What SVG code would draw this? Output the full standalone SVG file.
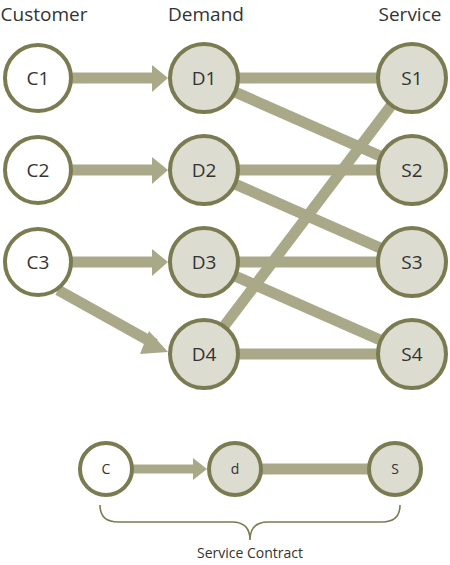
<svg xmlns="http://www.w3.org/2000/svg" width="450" height="565" viewBox="0 0 450 565">
<defs>
<style>
.lbl{font-family:"Open Sans","Noto Sans","Liberation Sans",sans-serif;fill:#333;text-anchor:middle}
.hd{font-size:19px}
.nt{font-size:19px}
.st{font-size:14px}
.c{fill:#fff;stroke:#7b7b52;stroke-width:4}
.d{fill:#dddcd0;stroke:#7b7b52;stroke-width:4}
.ln{stroke:#a9a98a;stroke-width:11;fill:none}
.ar{fill:#a9a98a}
</style>
</defs>
<rect width="450" height="565" fill="#fff"/>
<text class="lbl hd" x="44" y="21">Customer</text>
<text class="lbl hd" x="206" y="21">Demand</text>
<text class="lbl hd" x="410" y="21">Service</text>
<g id="connectors">
<line class="ln" x1="70" y1="78" x2="155" y2="78"/>
<polygon class="ar" points="152,65 168,78 152,92"/>
<line class="ln" x1="70" y1="170" x2="155" y2="170"/>
<polygon class="ar" points="152,157 168,170 152,184"/>
<line class="ln" x1="70" y1="262" x2="155" y2="262"/>
<polygon class="ar" points="152,249 168,262 152,276"/>
<line class="ln" x1="58" y1="290" x2="155" y2="344"/>
<polygon class="ar" points="149,331 168,352 140,354"/>
<line class="ln" x1="203" y1="78" x2="412" y2="78"/>
<line class="ln" x1="203" y1="78" x2="412" y2="170"/>
<line class="ln" x1="203" y1="170" x2="412" y2="170"/>
<line class="ln" x1="203" y1="170" x2="412" y2="262"/>
<line class="ln" x1="203" y1="262" x2="412" y2="262"/>
<line class="ln" x1="203" y1="262" x2="412" y2="354"/>
<line class="ln" x1="203" y1="354" x2="412" y2="354"/>
<line class="ln" x1="203" y1="354" x2="412" y2="78"/>
<line class="ln" x1="130" y1="469" x2="195" y2="469" style="stroke-width:9"/>
<polygon class="ar" points="193,458 207,469 193,480"/>
<line class="ln" x1="234" y1="469" x2="395" y2="469"/>
</g>
<g id="C1"><circle class="c" cx="38" cy="78" r="33"/><text class="lbl nt" x="38" y="85">C1</text></g>
<g id="C2"><circle class="c" cx="38" cy="170" r="33"/><text class="lbl nt" x="38" y="177">C2</text></g>
<g id="C3"><circle class="c" cx="38" cy="262" r="33"/><text class="lbl nt" x="38" y="269">C3</text></g>
<g id="D1"><circle class="d" cx="204" cy="78" r="34"/><text class="lbl nt" x="204" y="85">D1</text></g>
<g id="D2"><circle class="d" cx="204" cy="170" r="34"/><text class="lbl nt" x="204" y="177">D2</text></g>
<g id="D3"><circle class="d" cx="204" cy="262" r="34"/><text class="lbl nt" x="204" y="269">D3</text></g>
<g id="D4"><circle class="d" cx="204" cy="354" r="34"/><text class="lbl nt" x="204" y="361">D4</text></g>
<g id="S1"><circle class="d" cx="412" cy="78" r="34"/><text class="lbl nt" x="412" y="85">S1</text></g>
<g id="S2"><circle class="d" cx="412" cy="170" r="34"/><text class="lbl nt" x="412" y="177">S2</text></g>
<g id="S3"><circle class="d" cx="412" cy="262" r="34"/><text class="lbl nt" x="412" y="269">S3</text></g>
<g id="S4"><circle class="d" cx="412" cy="354" r="34"/><text class="lbl nt" x="412" y="361">S4</text></g>
<g id="C"><circle class="c" cx="106" cy="469" r="26"/><text class="lbl st" x="106" y="474">C</text></g>
<g id="d"><circle class="d" cx="235" cy="469" r="26"/><text class="lbl st" x="235" y="474">d</text></g>
<g id="S"><circle class="d" cx="395" cy="469" r="26"/><text class="lbl st" x="395" y="474">S</text></g>
<g id="brace">
<path d="M100,505 Q100,522 118,522 L232,522 Q250,522 250,540 Q250,522 268,522 L382,522 Q400,522 400,505" fill="none" stroke="#7b7b52" stroke-width="1.6"/>
<text class="lbl st" x="250" y="558">Service Contract</text>
</g>
</svg>
